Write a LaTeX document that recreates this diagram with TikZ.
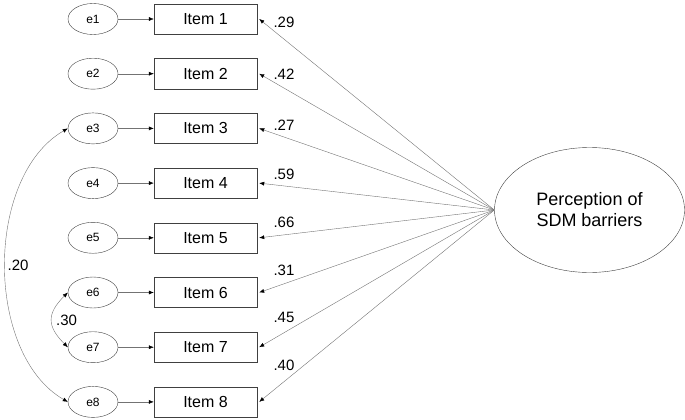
\documentclass[tikz,border=0pt]{standalone}
\usepackage{fontspec}
\setmainfont{Liberation Sans}
\usetikzlibrary{arrows.meta,shapes.geometric}

\tikzset{
  itembox/.style={draw=black!75, minimum width=103pt, minimum height=30pt, inner sep=0pt, font=\fontsize{16}{18}\selectfont},
  errnode/.style={ellipse, draw=black!75, minimum width=50pt, minimum height=31pt, inner sep=0pt, font=\fontsize{12}{14}\selectfont},
  factor/.style={ellipse, draw=black!75, minimum width=190pt, minimum height=125pt, align=center, font=\fontsize{18}{21}\selectfont},
  arr/.style={draw=black!55, -{Latex[length=5pt,width=4pt,color=black]}},
  covarr/.style={draw=black!55, {Latex[length=5pt,width=4pt,color=black]}-{Latex[length=5pt,width=4pt,color=black]}},
  coef/.style={inner sep=1pt, font=\fontsize{15}{17}\selectfont}
}

\begin{document}
\begin{tikzpicture}[x=1pt, y=1pt]
  \useasboundingbox (0,0) rectangle (685,-420);

  % latent factor
  \node[factor] (F) at (589.5,-210) {Perception of\\SDM barriers};

  % error terms and observed items
  \foreach \i in {1,...,8}{
    \node[errnode] (e\i) at (93,{-19-54.7*(\i-1)}) {e\i};
    \node[itembox] (item\i) at (205.5,{-19-54.7*(\i-1)}) {Item \i};
    \draw[arr] (e\i) -- (item\i);
  }

  % factor loadings
  \foreach \i/\w/\ly in {1/.29/22,2/.42/74,3/.27/125,4/.59/174,5/.66/222,6/.31/270,7/.45/317,8/.40/365}{
    \draw[arr] (F.west) -- ([xshift=2pt]item\i.east);
    \node[coef] (w\i) at (284,-\ly) {\w};
  }

  % error covariances
  \draw[covarr] (e3.west) to[out=210, in=150, looseness=0.9] node[coef, right=1pt] {.20} (e8.west);
  \draw[covarr] (e6.west) to[out=225, in=135, looseness=1.4] node[coef, right=3pt] {.30} (e7.west);
\end{tikzpicture}
\end{document}
